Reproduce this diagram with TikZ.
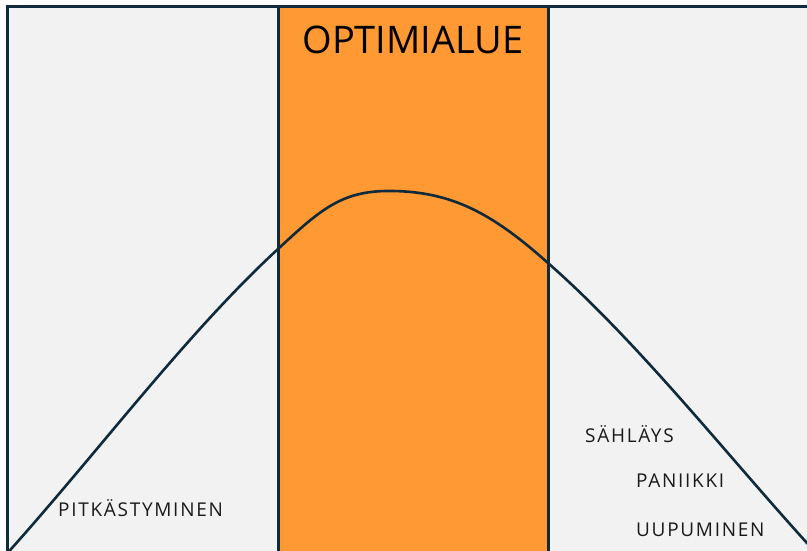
\documentclass[tikz,border=0pt]{standalone}
\usepackage{fontspec}
\setmainfont{Open Sans}

\definecolor{navy}{HTML}{0F2A3A}
\definecolor{panelgray}{HTML}{F2F2F2}
\definecolor{optorange}{HTML}{FF9933}
\definecolor{textdark}{HTML}{1A1A1A}

\tikzset{
  frame/.style={draw=navy, line width=3pt},
  curveline/.style={draw=navy, line width=2.6pt, line join=round},
  label/.style={text=textdark, anchor=west, inner sep=0pt,
    font=\fontsize{19}{22}\selectfont\addfontfeature{LetterSpace=9}},
}

\begin{document}
\begin{tikzpicture}[x=1pt, y=-1pt]

\useasboundingbox (0,0) rectangle (807,550);
\clip (0,0) rectangle (807,550);

% panels
\fill[panelgray] (7.5,6.5) rectangle (812,556);
\fill[optorange] (278,6.5) rectangle (548,556);

% curve
\coordinate (start) at (0,561.5);
\coordinate (low) at (12,548);
\coordinate (inleft) at (278,249);
\coordinate (top) at (393,191);
\coordinate (inright) at (548,263);
\coordinate (high) at (807,543);
\coordinate (stop) at (818,555);
\draw[curveline] (start) -- (low)
  .. controls (102,447) and (188,332) .. (inleft)
  .. controls (322,208) and (343,190) .. (top)
  .. controls (452,192) and (492,213) .. (inright)
  .. controls (638,342) and (727,455) .. (high) -- (stop);

% frame lines
\draw[frame] (6,6.5) -- (812,6.5);
\draw[frame] (7.5,5) -- (7.5,556);
\draw[frame] (278,5) -- (278,556);
\draw[frame] (548,5) -- (548,556);

% texts
\node (opt) at (413,40) {\fontsize{38}{42}\selectfont OPTIMIALUE};
\node[label] (pitk) at (58,508) {PITKÄSTYMINEN};
\node[label] (sahl) at (585,434) {SÄHLÄYS};
\node[label] (pani) at (636,481) {PANIIKKI};
\node[label] (uupu) at (636,530) {UUPUMINEN};

\end{tikzpicture}
\end{document}
